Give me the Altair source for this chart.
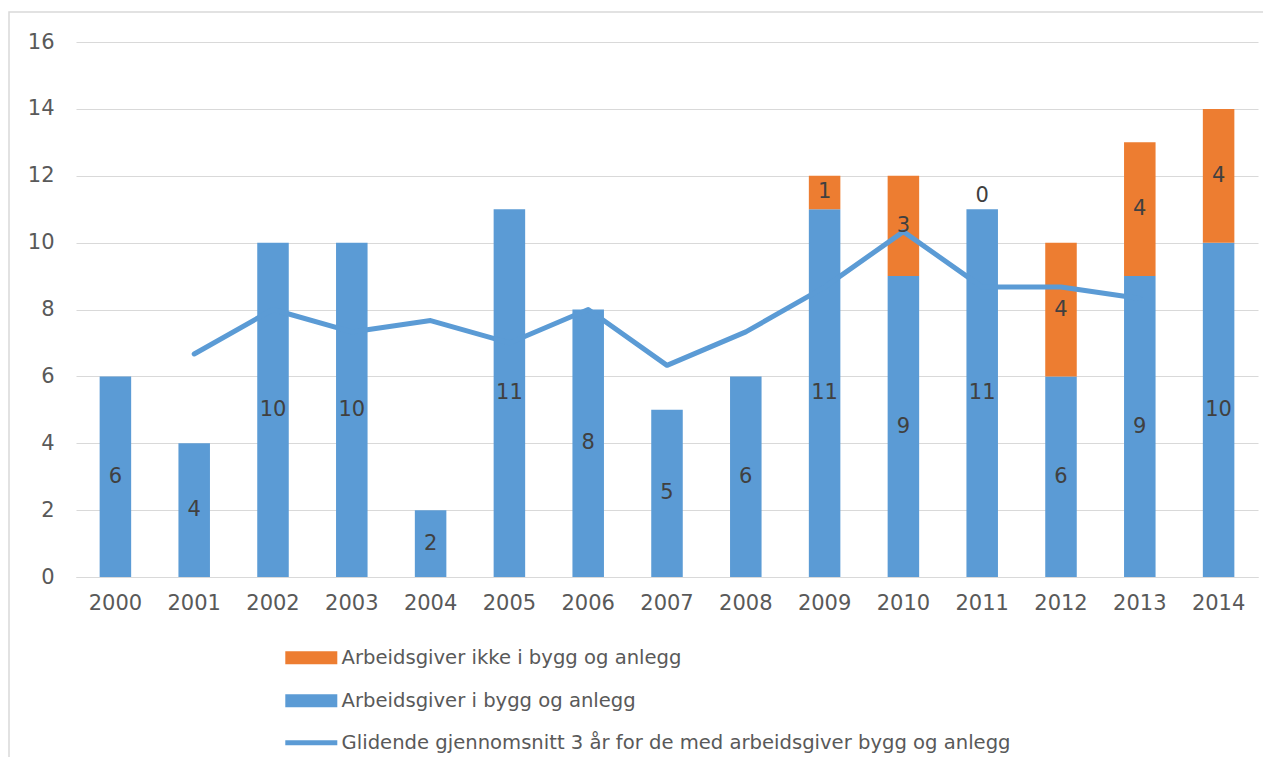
import altair as alt
import pandas as pd

years = [str(y) for y in range(2000, 2015)]
blue = [6, 4, 10, 10, 2, 11, 8, 5, 6, 11, 9, 11, 6, 9, 10]
orange = [None, None, None, None, None, None, None, None, None, 1, 3, 0, 4, 4, 4]
avg3 = [None, 6.67, 8.0, 7.33, 7.67, 7.0, 8.0, 6.33, 7.33, 8.67, 10.33, 8.67, 8.67, 8.33, None]

S_OR = "Arbeidsgiver ikke i bygg og anlegg"
S_BL = "Arbeidsgiver i bygg og anlegg"
S_LN = "Glidende gjennomsnitt 3 år for de med arbeidsgiver bygg og anlegg"

rows = []
for y, b, o in zip(years, blue, orange):
    rows.append({"year": y, "series": S_BL, "value": b, "y0": 0, "y1": b})
    if o is not None:
        rows.append({"year": y, "series": S_OR, "value": o, "y0": b, "y1": b + o})
bars_df = pd.DataFrame(rows)
bars_df["mid"] = (bars_df["y0"] + bars_df["y1"]) / 2
line_df = pd.DataFrame({"year": years, "avg": avg3}).dropna()

FONT = "DejaVu Sans"
xenc = alt.X("year:N", title=None, sort=years,
             scale=alt.Scale(paddingInner=0.6, paddingOuter=0.3),
             axis=alt.Axis(labelAngle=0, ticks=False, domainColor="#D9D9D9",
                           labelFontSize=21, labelColor="#595959", labelPadding=15,
                           labelFont=FONT))

base = alt.Chart(bars_df)

frame = alt.Chart(pd.DataFrame({"a": [0]})).mark_rect(
    fill="white", fillOpacity=0, stroke="#D9D9D9", strokeWidth=1.5
).encode(x=alt.value(-67), x2=alt.value(1300), y=alt.value(-30), y2=alt.value(900))

bars = base.mark_bar().encode(
    x=xenc,
    y=alt.Y("y1:Q", title=None, scale=alt.Scale(domain=[0, 16]),
            axis=alt.Axis(values=list(range(0, 17, 2)), ticks=False, domain=False,
                          gridColor="#D9D9D9", gridWidth=1, labelFontSize=21,
                          labelColor="#595959", labelPadding=22, labelFont=FONT)),
    y2="y0:Q",
    color=alt.Color("series:N", scale=alt.Scale(domain=[S_OR, S_BL], range=["#ED7D31", "#5B9BD5"]),
                    legend=alt.Legend(title=None, orient="none", legendX=206, legendY=606,
                                      symbolType="M-1,-1H7V1H-1Z", symbolSize=169,
                                      symbolStrokeWidth=0, labelFontSize=19.6, labelFont=FONT,
                                      labelColor="#595959", labelLimit=800, rowPadding=22,
                                      labelOffset=40, padding=0, direction="vertical")),
)

line = alt.Chart(line_df).mark_line(strokeWidth=5, strokeCap="round", strokeJoin="round").encode(
    x=alt.X("year:N", sort=years),
    y=alt.Y("avg:Q"),
    stroke=alt.Stroke("s:N", scale=alt.Scale(domain=[S_LN], range=["#5B9BD5"]),
                      legend=alt.Legend(title=None, orient="none", legendX=206, legendY=691,
                                        symbolType="M-1,0H7", symbolSize=169,
                                        symbolStrokeWidth=5, labelFontSize=19.6, labelFont=FONT,
                                        labelColor="#595959", labelLimit=900,
                                        labelOffset=40, padding=0)),
).transform_calculate(s=f"'{S_LN}'")

labels_nz = base.transform_filter("datum.value > 0").mark_text(
    fontSize=21, color="#404040", font=FONT, baseline="middle"
).encode(x=alt.X("year:N", sort=years), y="mid:Q", text="value:Q")

labels_z = base.transform_filter("datum.value == 0").mark_text(
    fontSize=21, color="#404040", font=FONT, baseline="bottom", dy=-3
).encode(x=alt.X("year:N", sort=years), y="y1:Q", text="value:Q")

chart = alt.layer(frame, bars, line, labels_nz, labels_z).resolve_scale(
    color="independent", stroke="independent"
).properties(
    width=1182, height=535,
    autosize=alt.AutoSizeParams(type="none"),
    padding={"left": 68, "top": 34, "right": 5, "bottom": 180},
).configure_view(stroke=None)

chart.save("out.html", embed_options={"renderer": "svg", "actions": False})
